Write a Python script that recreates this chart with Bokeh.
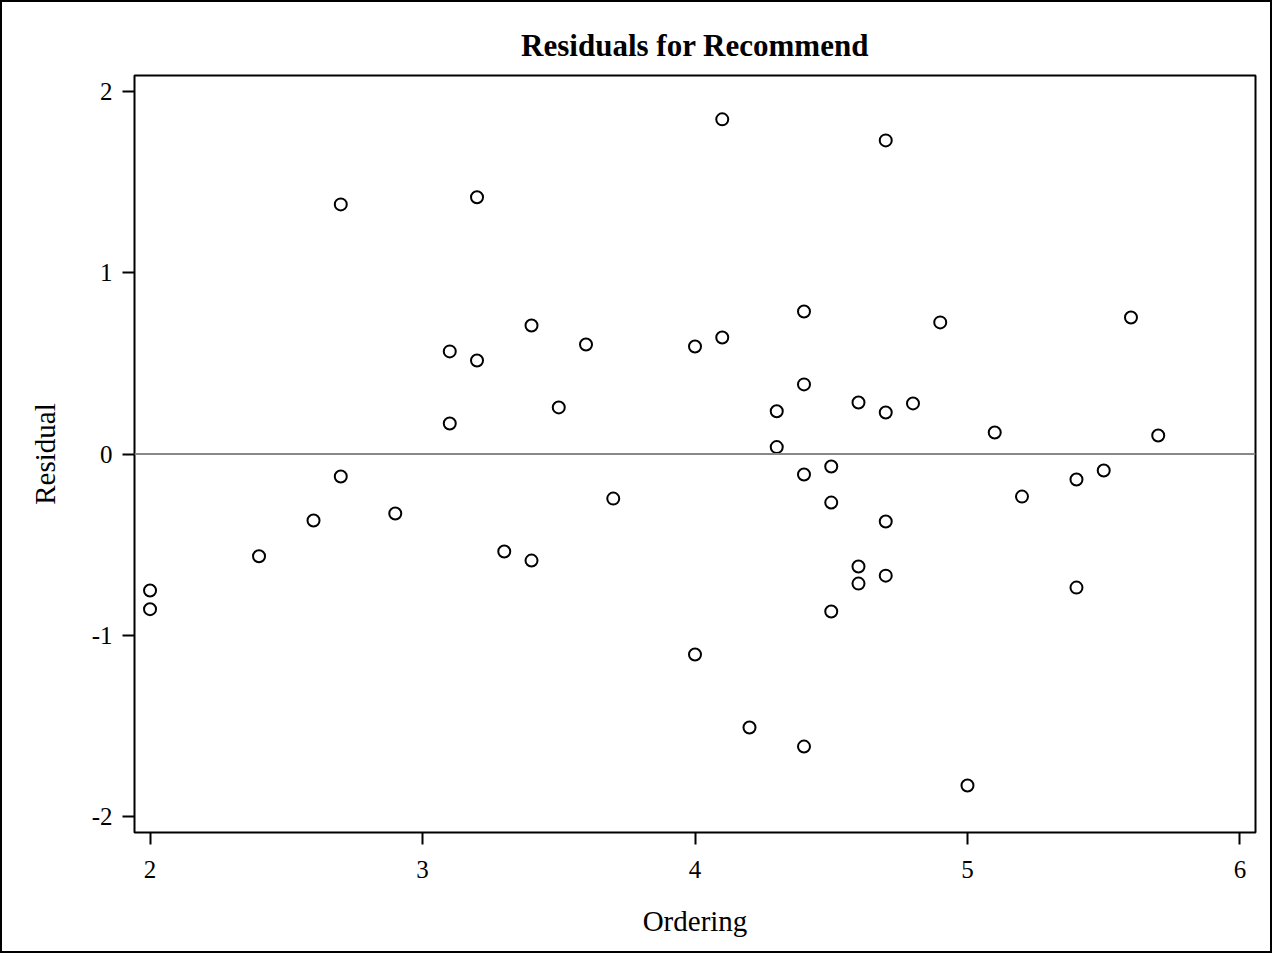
from bokeh.plotting import figure
from bokeh.layouts import column
from bokeh.models import Range1d, Span, FixedTicker
from bokeh.embed import file_html
from bokeh.resources import INLINE

ordering = [2.0, 2.0, 2.4, 2.6, 2.7, 2.7, 2.9, 3.1, 3.1, 3.2, 3.2, 3.3, 3.4, 3.4,
            3.5, 3.6, 3.7, 4.0, 4.0, 4.1, 4.1, 4.2, 4.3, 4.3, 4.4, 4.4, 4.4, 4.4,
            4.5, 4.5, 4.5, 4.6, 4.6, 4.6, 4.7, 4.7, 4.7, 4.7, 4.8, 4.9, 5.0, 5.1,
            5.2, 5.4, 5.4, 5.5, 5.6, 5.7]
residual = [-0.753, -0.856, -0.564, -0.367, 1.377, -0.124, -0.328, 0.566, 0.168,
            1.416, 0.516, -0.538, 0.709, -0.588, 0.257, 0.604, -0.246, 0.593,
            -1.106, 1.846, 0.643, -1.509, 0.236, 0.038, 0.786, 0.384, -0.113,
            -1.614, -0.069, -0.268, -0.869, 0.284, -0.621, -0.715, 1.730, 0.229,
            -0.372, -0.671, 0.279, 0.726, -1.829, 0.119, -0.235, -0.141, -0.737,
            -0.091, 0.753, 0.102]
x_ticks = [2, 3, 4, 5, 6]
y_ticks = [-2, -1, 0, 1, 2]

FONT = "Liberation Serif"

W, H = 1266, 947
LEFT, TOP = 131, 72
p = figure(width=W, height=H, output_backend="svg", toolbar_location=None,
           x_range=Range1d(1.943, 6.057), y_range=Range1d(-2.088, 2.088),
           min_border_left=LEFT, min_border_right=W - LEFT - 1121, min_border_top=TOP,
           min_border_bottom=H - TOP - 757, title="Residuals for Recommend")

p.title.text_font = FONT
p.title.text_font_size = "31px"
p.title.text_font_style = "bold"
p.title.text_color = "black"
p.title.align = "center"
p.title.standoff = 26

p.outline_line_color = "black"
p.outline_line_width = 2
p.outline_line_alpha = 1.0
p.xgrid.visible = False
p.ygrid.visible = False

for ax in (p.xaxis[0], p.yaxis[0]):
    ax.axis_line_color = None
    ax.major_tick_line_color = "black"
    ax.major_tick_line_width = 2
    ax.major_tick_in = 0
    ax.major_tick_out = 12
    ax.minor_tick_line_color = None
    ax.major_label_text_font = FONT
    ax.major_label_text_font_size = "25px"
    ax.major_label_text_color = "black"
    ax.axis_label_text_font = FONT
    ax.axis_label_text_font_size = "29px"
    ax.axis_label_text_font_style = "normal"
    ax.axis_label_text_color = "black"

p.xaxis.ticker = FixedTicker(ticks=x_ticks)
p.yaxis.ticker = FixedTicker(ticks=y_ticks)
p.xaxis.axis_label = "Ordering"
p.yaxis.axis_label = "Residual"
p.xaxis.major_label_standoff = 16
p.xaxis.axis_label_standoff = 24
p.yaxis.major_label_standoff = 10
p.yaxis.axis_label_standoff = 28
p.yaxis.major_label_overrides = {-2: "-2", -1: "-1"}

p.add_layout(Span(location=0, dimension="width", line_color="#888888", line_width=2))

p.scatter(ordering, residual, marker="circle", size=12, line_color="black",
          line_width=2, fill_color=None)

layout = column(p, styles={"border": "2px solid black", "padding": "1px"})

open("out.html", "w").write(file_html(layout, INLINE))
